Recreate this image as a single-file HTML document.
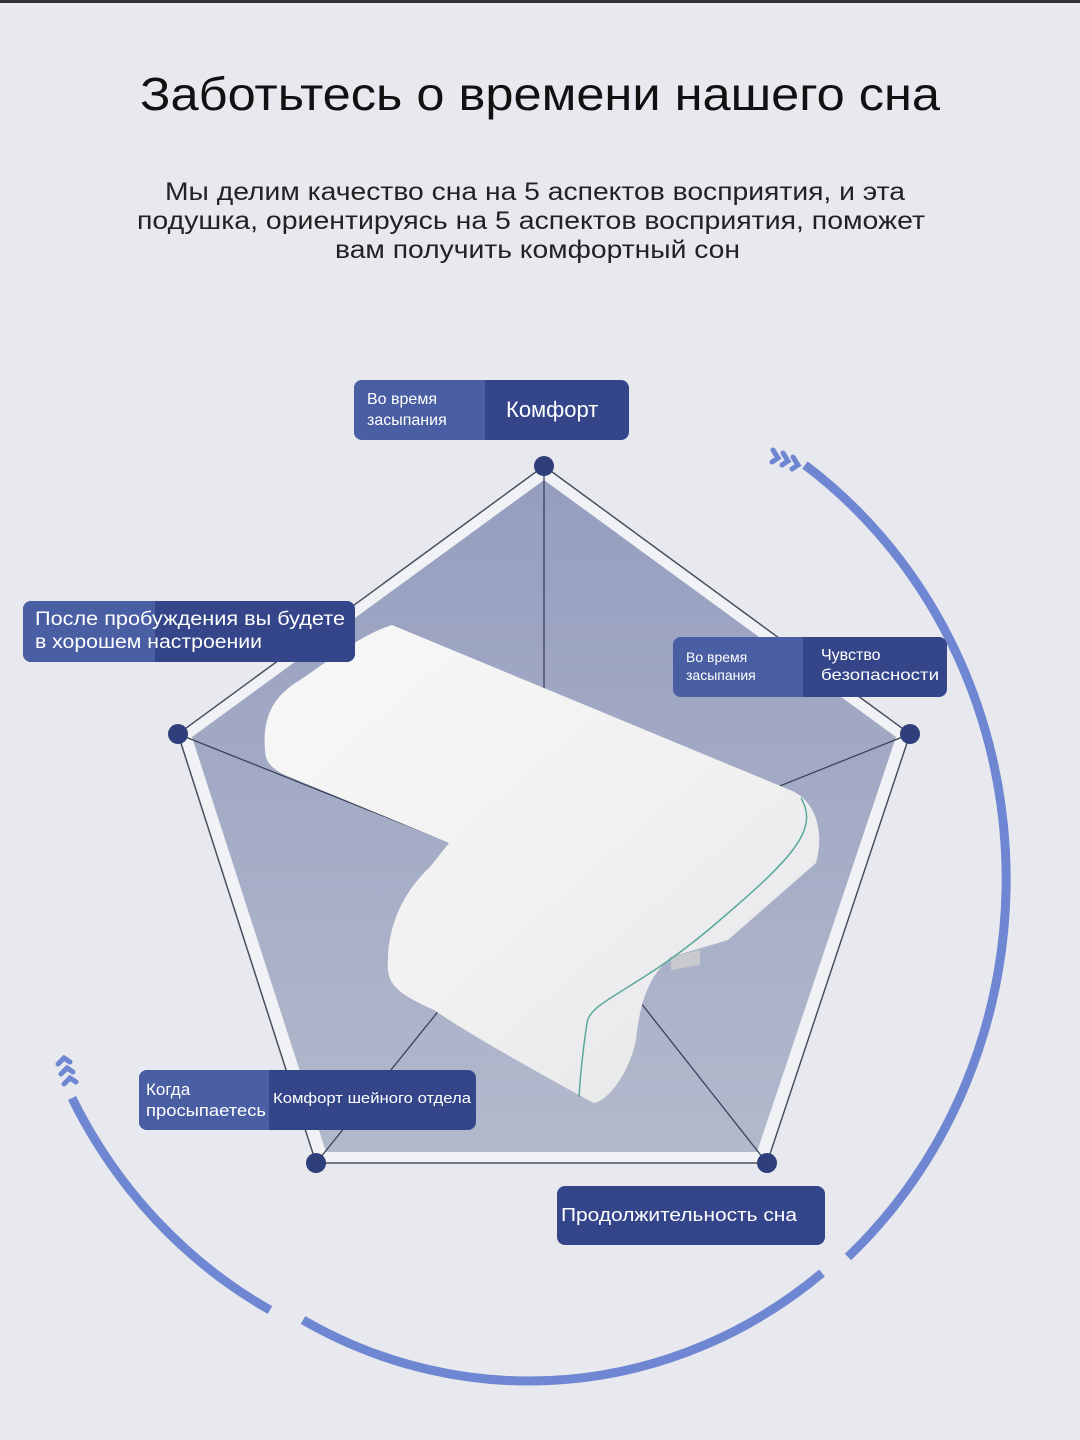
<!DOCTYPE html>
<html><head><meta charset="utf-8"><style>
html,body{margin:0;padding:0;background:#e8e9ee;}
svg{display:block;}
text{font-family:"Liberation Sans",sans-serif;}
</style></head><body>
<svg width="1080" height="1440" viewBox="0 0 1080 1440" xmlns="http://www.w3.org/2000/svg">
<defs>
<linearGradient id="pf" x1="0" y1="0" x2="0" y2="1">
<stop offset="0" stop-color="#959ebf"/><stop offset="1" stop-color="#b3b9cc"/>
</linearGradient>
<linearGradient id="pw" x1="0" y1="0" x2="1" y2="1">
<stop offset="0" stop-color="#f8f8f8"/><stop offset="0.6" stop-color="#f0f0f1"/><stop offset="1" stop-color="#e2e3e6"/>
</linearGradient>
</defs>
<rect width="1080" height="1440" fill="#e8e9ee"/>
<rect width="1080" height="3" fill="#333"/>

<text x="140" y="110" font-size="46" fill="#111" textLength="800" lengthAdjust="spacingAndGlyphs">Заботьтесь о времени нашего сна</text>
<text x="165" y="200" font-size="25" fill="#222" textLength="740" lengthAdjust="spacingAndGlyphs">Мы делим качество сна на 5 аспектов восприятия, и эта</text>
<text x="137" y="229" font-size="25" fill="#222" textLength="788" lengthAdjust="spacingAndGlyphs">подушка, ориентируясь на 5 аспектов восприятия, поможет</text>
<text x="335" y="258" font-size="25" fill="#222" textLength="405" lengthAdjust="spacingAndGlyphs">вам получить комфортный сон</text>

<g fill="none" stroke="#6f86d2" stroke-width="9">
<path d="M805,465 A475,507 0 0 1 848,1257"/>
<path d="M822,1273 A475,507 0 0 1 303,1320"/>
<path d="M270,1310 A475,507 0 0 1 72,1098"/>
</g>
<g fill="none" stroke="#6f86d2" stroke-width="5" stroke-linecap="round">
<path d="M773,450 l5,8 l-6,4"/><path d="M783,453 l5,8 l-6,4"/><path d="M793,457 l5,8 l-6,4"/>
<path d="M58,1064 l6,-6 l6,4"/><path d="M61,1074 l6,-6 l6,4"/><path d="M64,1084 l6,-6 l6,4"/>
</g>

<polygon points="544,466 910,734 767,1163 316,1163 178,734" fill="#f1f2f6" stroke="#4a4f60" stroke-width="1.5"/>
<polygon points="544,480 896,737 757,1152 326,1152 192,737" fill="url(#pf)"/>
<g stroke="#3c4258" stroke-width="1.3">
<line x1="544" y1="466" x2="544" y2="880"/>
<line x1="910" y1="734" x2="544" y2="880"/>
<line x1="767" y1="1163" x2="544" y2="880"/>
<line x1="316" y1="1163" x2="544" y2="880"/>
<line x1="178" y1="734" x2="544" y2="880"/>
</g>
<g fill="#2f3f7c">
<circle cx="544" cy="466" r="10"/><circle cx="910" cy="734" r="10"/><circle cx="767" cy="1163" r="10"/><circle cx="316" cy="1163" r="10"/><circle cx="178" cy="734" r="10"/>
</g>

<path d="M265,750 C262,715 275,695 300,680 C330,660 360,635 392,625 L790,790 C815,800 825,830 816,863 L728,940 L671,957 C650,975 640,1000 636,1040 C630,1070 610,1100 594,1103 C560,1085 470,1035 434,1010 C400,995 385,985 388,960 C388,930 400,895 430,867 L449,843 L285,775 C270,768 265,760 265,750 Z" fill="url(#pw)"/>
<path d="M671,957 L700,950 L700,965 L671,970 Z" fill="#c9cacf"/>
<path d="M801,798 C820,830 790,860 720,920 C640,990 590,1000 587,1023 C583,1050 580,1080 579,1097" fill="none" stroke="#5aa89a" stroke-width="1.5"/>

<g>
<rect x="354" y="380" width="275" height="60" rx="8" fill="#34458a"/>
<path d="M362,380 H485 V440 H362 A8,8 0 0 1 354,432 V388 A8,8 0 0 1 362,380 Z" fill="#4a5ea3"/>
<text x="367" y="404" font-size="16" fill="#fff">Во время</text>
<text x="367" y="425" font-size="16" fill="#fff">засыпания</text>
<text x="506" y="417" font-size="22" fill="#fff">Комфорт</text>

<rect x="23" y="601" width="332" height="61" rx="8" fill="#34458a"/>
<path d="M31,601 H155 V662 H31 A8,8 0 0 1 23,654 V609 A8,8 0 0 1 31,601 Z" fill="#4a5ea3"/>
<text x="35" y="625" font-size="19" fill="#fff" textLength="310" lengthAdjust="spacingAndGlyphs">После пробуждения вы будете</text>
<text x="35" y="648" font-size="19" fill="#fff" textLength="227" lengthAdjust="spacingAndGlyphs">в хорошем настроении</text>

<rect x="673" y="637" width="274" height="60" rx="8" fill="#34458a"/>
<path d="M681,637 H803 V697 H681 A8,8 0 0 1 673,689 V645 A8,8 0 0 1 681,637 Z" fill="#4a5ea3"/>
<text x="686" y="662" font-size="14" fill="#fff">Во время</text>
<text x="686" y="680" font-size="14" fill="#fff">засыпания</text>
<text x="821" y="660" font-size="16" fill="#fff">Чувство</text>
<text x="821" y="680" font-size="16" fill="#fff" textLength="118" lengthAdjust="spacingAndGlyphs">безопасности</text>

<rect x="139" y="1070" width="337" height="60" rx="8" fill="#34458a"/>
<path d="M147,1070 H269 V1130 H147 A8,8 0 0 1 139,1122 V1078 A8,8 0 0 1 147,1070 Z" fill="#4a5ea3"/>
<text x="146" y="1095" font-size="17" fill="#fff">Когда</text>
<text x="146" y="1116" font-size="17" fill="#fff" textLength="120" lengthAdjust="spacingAndGlyphs">просыпаетесь</text>
<text x="273" y="1103" font-size="15" fill="#fff" textLength="198" lengthAdjust="spacingAndGlyphs">Комфорт шейного отдела</text>

<rect x="557" y="1186" width="268" height="59" rx="8" fill="#34458a"/>
<text x="561" y="1221" font-size="18" fill="#fff" textLength="236" lengthAdjust="spacingAndGlyphs">Продолжительность сна</text>
</g>
</svg>
</body></html>
